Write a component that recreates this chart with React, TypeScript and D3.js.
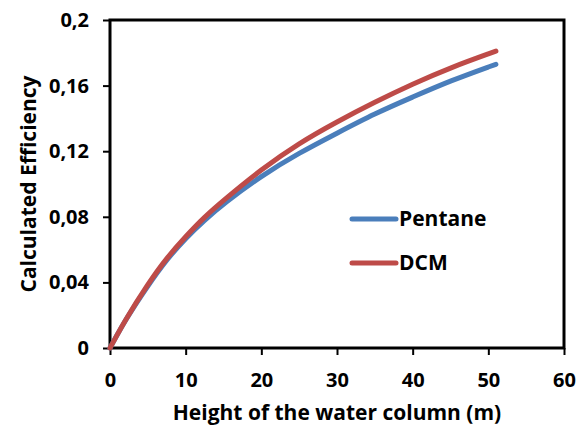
import { useEffect, useRef } from "react";
import * as d3 from "d3";

const heights = [0, 2, 5, 7.5, 10, 12.5, 15, 20, 25, 30, 35, 40, 45, 51];
const pentane = [0, 0.017, 0.038, 0.054, 0.067, 0.078, 0.088, 0.105, 0.119, 0.131, 0.143, 0.153, 0.163, 0.173];
const dcm = [0, 0.017, 0.039, 0.055, 0.068, 0.08, 0.09, 0.109, 0.125, 0.138, 0.15, 0.161, 0.171, 0.181];
const seriesNames = ["Pentane", "DCM"];
const seriesColors = ["#4a7ebb", "#be4b48"];
const xTicks = [0, 10, 20, 30, 40, 50, 60];
const yTicks = [0, 0.04, 0.08, 0.12, 0.16, 0.2];

export default function App() {
  const ref = useRef<SVGSVGElement>(null);

  useEffect(() => {
    const width = 577;
    const height = 433;
    const margin = { top: 20, right: 13, bottom: 85, left: 110 };
    const svg = d3.select(ref.current);
    svg.selectAll("*").remove();
    svg.attr("width", width).attr("height", height);

    const x = d3.scaleLinear().domain([0, 60]).range([margin.left, width - margin.right]);
    const y = d3.scaleLinear().domain([0, 0.2]).range([height - margin.bottom, margin.top]);
    const font = "'Open Sans', sans-serif";

    // frame
    svg.append("rect")
      .attr("x", x(0))
      .attr("y", y(0.2))
      .attr("width", x(60) - x(0))
      .attr("height", y(0) - y(0.2))
      .attr("fill", "none")
      .attr("stroke", "black")
      .attr("stroke-width", 3);

    const fmt = (d: number) => (d === 0 ? "0" : String(d).replace(".", ","));

    const yAxis = svg.append("g")
      .attr("transform", `translate(${x(0)},0)`)
      .call(d3.axisLeft(y).tickValues(yTicks).tickSize(7).tickPadding(14).tickFormat((d) => fmt(+d)));
    const xAxis = svg.append("g")
      .attr("transform", `translate(0,${y(0)})`)
      .call(d3.axisBottom(x).tickValues(xTicks).tickSize(7).tickPadding(18).tickFormat((d) => String(d)));
    [xAxis, yAxis].forEach((a) => {
      a.select(".domain").remove();
      a.selectAll("line").attr("stroke", "black").attr("stroke-width", 2);
      a.selectAll("text")
        .attr("fill", "black")
        .style("font-family", font)
        .style("font-weight", "bold")
        .style("font-size", "20px");
    });

    const line = d3.line<number>()
      .x((d, i) => x(heights[i]))
      .y((d) => y(d))
      .curve(d3.curveBasis);

    [pentane, dcm].forEach((s, i) => {
      svg.append("path")
        .datum(s)
        .attr("d", line)
        .attr("fill", "none")
        .attr("stroke", seriesColors[i])
        .attr("stroke-width", 5)
        .attr("stroke-linecap", "round");
    });

    // legend
    seriesNames.forEach((name, i) => {
      const ly = 219 + i * 44;
      svg.append("line")
        .attr("x1", 352).attr("x2", 396)
        .attr("y1", ly).attr("y2", ly)
        .attr("stroke", seriesColors[i])
        .attr("stroke-width", 5)
        .attr("stroke-linecap", "round");
      svg.append("text")
        .attr("x", 399)
        .attr("y", ly + 7)
        .text(name)
        .style("font-family", font)
        .style("font-weight", "bold")
        .style("font-size", "21px");
    });

    svg.append("text")
      .attr("x", 337)
      .attr("y", 420)
      .attr("text-anchor", "middle")
      .text("Height of the water column (m)")
      .style("font-family", font)
      .style("font-weight", "bold")
      .style("font-size", "21px");

    svg.append("text")
      .attr("transform", `translate(36,${184}) rotate(-90)`)
      .attr("text-anchor", "middle")
      .text("Calculated Efficiency")
      .style("font-family", font)
      .style("font-weight", "bold")
      .style("font-size", "21px");
  }, []);

  return (
    <div style={{ position: "absolute", top: 0, left: 0, background: "white" }}>
      <svg ref={ref}></svg>
    </div>
  );
}
